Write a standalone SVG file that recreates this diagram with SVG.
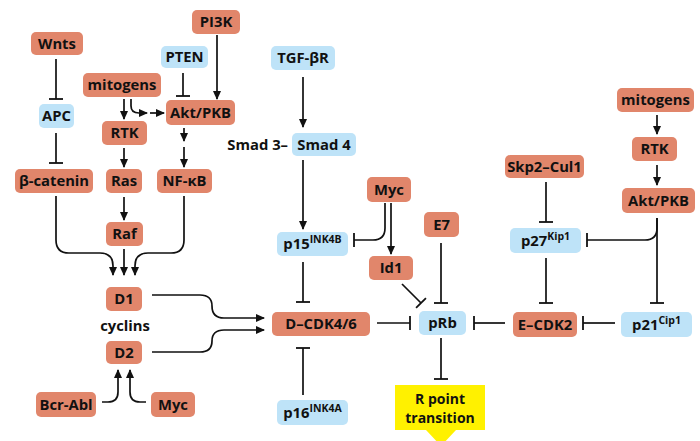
<svg xmlns="http://www.w3.org/2000/svg" width="700" height="441" viewBox="0 0 700 441">
<style>
.s{fill:#E1866B}
.b{fill:#BEE3F8}
.y{fill:#FFF100}
text{font-family:"Open Sans","Liberation Sans",sans-serif;font-weight:700;font-size:14.8px;fill:#111;text-anchor:middle}
.sup{font-size:10.5px}
.rp{font-size:14px}
.c path{fill:none;stroke:#111;stroke-width:1.7}
.ar{marker-end:url(#arr)}
.te{marker-end:url(#tee)}
</style>
<defs>
<marker id="arr" markerUnits="userSpaceOnUse" markerWidth="9" markerHeight="8" refX="8" refY="4" orient="auto" viewBox="0 0 9 8"><path d="M0,0 L9,4 L0,8 z" fill="#111"/></marker>
<marker id="tee" markerUnits="userSpaceOnUse" markerWidth="4" markerHeight="16" refX="2" refY="8" orient="auto" viewBox="0 0 4 16"><path d="M2,1 V15" stroke="#111" stroke-width="1.8"/></marker>
</defs>
<rect width="700" height="441" fill="#fff"/>
<g id="connectors" class="c">
<path class="te" d="M56,59 V99"/>
<path class="te" d="M56,133 V163"/>
<path class="te" d="M183,73 V96"/>
<path class="ar" d="M217,35 V99"/>
<path class="ar" d="M124,99 V119"/>
<path class="ar" d="M131,99 V106 Q131,113 139,113 H147"/>
<path class="ar" d="M150,113 H164"/>
<path class="ar" d="M184,128 V141"/>
<path class="ar" d="M184,147 V167"/>
<path class="ar" d="M124,148 V167"/>
<path class="ar" d="M124,197 V220"/>
<path class="ar" d="M56,196 V240 Q56,253 69,253 H100 Q113,253 113,266 V275"/>
<path class="ar" d="M124,249 V275"/>
<path class="ar" d="M184,196 V240 Q184,253 171,253 H148 Q135,253 135,266 V275"/>
<path class="ar" d="M152,295 H200 Q212,295 212,306 Q212,318 224,318 H264"/>
<path class="ar" d="M152,352 H200 Q212,352 212,341 Q212,330 224,330 H264"/>
<path class="ar" d="M102,402 H108 Q118,402 118,392 V370"/>
<path class="ar" d="M146,402 H140 Q130,402 130,392 V370"/>
<path class="ar" d="M303,77 V127"/>
<path class="ar" d="M303,160 V229"/>
<path class="te" d="M303,262 V302"/>
<path class="te" d="M303,395 V348"/>
<path class="te" d="M385,203 V228 Q385,240 373,240 H354"/>
<path class="ar" d="M391,203 V254"/>
<path class="te" d="M402,284 L421,303"/>
<path class="te" d="M441,243 V303"/>
<path class="te" d="M377,323 H410"/>
<path class="te" d="M441,338 V379"/>
<path class="te" d="M505,323 H474"/>
<path class="te" d="M615,323 H583"/>
<path class="te" d="M546,182 V222"/>
<path class="te" d="M546,258 V303"/>
<path class="ar" d="M657,115 V134"/>
<path class="ar" d="M657,165 V185"/>
<path class="te" d="M657,218 V228 Q657,240 645,240 H587"/>
<path class="te" d="M657,218 V303"/>
</g>
<g id="wnts"><rect class="s" x="31" y="32" width="52" height="23" rx="5"/><text x="57" y="48.5">Wnts</text></g>
<g id="pi3k"><rect class="s" x="192" y="10" width="48" height="24" rx="5"/><text x="216" y="27">PI3K</text></g>
<g id="pten"><rect class="b" x="161" y="46" width="47" height="22" rx="5"/><text x="184.5" y="62">PTEN</text></g>
<g id="mitogens1"><rect class="s" x="83" y="73" width="78" height="24" rx="5"/><text x="122" y="90">mitogens</text></g>
<g id="apc"><rect class="b" x="39" y="104" width="35" height="24" rx="5"/><text x="56.5" y="121">APC</text></g>
<g id="akt1"><rect class="s" x="166" y="100" width="69" height="25" rx="5"/><text x="200.5" y="117.5">Akt/PKB</text></g>
<g id="rtk1"><rect class="s" x="102" y="121" width="45" height="24" rx="5"/><text x="124.5" y="138">RTK</text></g>
<g id="bcatenin"><rect class="s" x="15" y="169" width="78" height="24" rx="5"/><text x="54" y="186">β-catenin</text></g>
<g id="ras"><rect class="s" x="106" y="169" width="36" height="24" rx="5"/><text x="124" y="186">Ras</text></g>
<g id="nfkb"><rect class="s" x="157" y="169" width="55" height="24" rx="5"/><text x="184.5" y="186">NF-κB</text></g>
<g id="raf"><rect class="s" x="106" y="222" width="37" height="24" rx="5"/><text x="124.5" y="239">Raf</text></g>
<g id="d1"><rect class="s" x="106" y="287" width="36" height="24" rx="5"/><text x="124" y="304">D1</text></g>
<g id="cyclins"><text x="125" y="331">cyclins</text></g>
<g id="d2"><rect class="s" x="106" y="341" width="36" height="23" rx="5"/><text x="124" y="357.5">D2</text></g>
<g id="bcrabl"><rect class="s" x="36" y="392" width="60" height="25" rx="5"/><text x="66" y="409.5">Bcr-Abl</text></g>
<g id="myc1"><rect class="s" x="151" y="392" width="44" height="25" rx="5"/><text x="173" y="409.5">Myc</text></g>
<g id="tgfbr"><rect class="b" x="271" y="46" width="64" height="24" rx="5"/><text x="303" y="63">TGF-βR</text></g>
<g id="smad"><text x="288" y="150" style="text-anchor:end">Smad 3–</text><rect class="b" x="292" y="133" width="64" height="23" rx="5"/><text x="324" y="149.5">Smad 4</text></g>
<g id="p15"><rect class="b" x="277" y="232" width="71" height="24" rx="5"/><text x="312.5" y="249">p15<tspan class="sup" dy="-6">INK4B</tspan></text></g>
<g id="myc2"><rect class="s" x="367" y="177" width="44" height="25" rx="5"/><text x="389" y="194.5">Myc</text></g>
<g id="e7"><rect class="s" x="424" y="212" width="35" height="25" rx="5"/><text x="441.5" y="229.5">E7</text></g>
<g id="id1"><rect class="s" x="369" y="256" width="44" height="24" rx="5"/><text x="391" y="273">Id1</text></g>
<g id="dcdk46"><rect class="s" x="272" y="312" width="98" height="24" rx="5"/><text x="321" y="329">D–CDK4/6</text></g>
<g id="prb"><rect class="b" x="419" y="311" width="47" height="24" rx="5"/><text x="442.5" y="328">pRb</text></g>
<g id="p16"><rect class="b" x="277" y="400" width="71" height="25" rx="5"/><text x="312.5" y="417.5">p16<tspan class="sup" dy="-6">INK4A</tspan></text></g>
<g id="rpoint"><rect class="y" x="395" y="385" width="90" height="45"/><polygon class="y" points="426,430 456,430 441,446"/><text class="rp" x="440" y="404">R point</text><text class="rp" x="440" y="423">transition</text></g>
<g id="mitogens2"><rect class="s" x="617" y="88" width="77" height="24" rx="5"/><text x="655.5" y="105">mitogens</text></g>
<g id="rtk2"><rect class="s" x="632" y="137" width="45" height="24" rx="5"/><text x="654.5" y="154">RTK</text></g>
<g id="akt2"><rect class="s" x="622" y="188" width="73" height="25" rx="5"/><text x="658.5" y="205.5">Akt/PKB</text></g>
<g id="skp2"><rect class="s" x="505" y="155" width="79" height="23" rx="5"/><text x="544.5" y="171.5">Skp2–Cul1</text></g>
<g id="p27"><rect class="b" x="510" y="228" width="71" height="25" rx="5"/><text x="545.5" y="245.5">p27<tspan class="sup" dy="-6">Kip1</tspan></text></g>
<g id="ecdk2"><rect class="s" x="513" y="312" width="64" height="25" rx="5"/><text x="545" y="329.5">E–CDK2</text></g>
<g id="p21"><rect class="b" x="621" y="312" width="71" height="25" rx="5"/><text x="656.5" y="329.5">p21<tspan class="sup" dy="-6">Cip1</tspan></text></g>
</svg>
